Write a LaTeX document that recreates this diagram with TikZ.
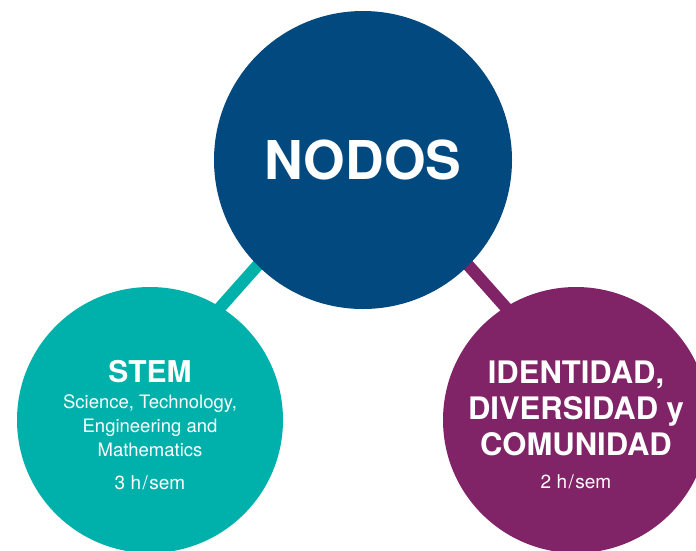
\documentclass[tikz,border=0pt]{standalone}
\usepackage{fontspec}
\setmainfont{TeX Gyre Heros}
\usetikzlibrary{backgrounds}

\definecolor{nodoblue}{RGB}{2,73,128}
\definecolor{stemteal}{RGB}{0,176,170}
\definecolor{idcpurple}{RGB}{128,35,103}

\tikzset{
  bubble/.style={circle, inner sep=0pt, text=white, align=center},
  bubbletext/.style={text=white, align=center, inner sep=0pt},
  link/.style={line width=12pt, shorten <=-8pt, shorten >=-8pt},
}
\newcommand{\hours}[1]{{\fontsize{19}{23.7}\selectfont\mdseries #1 h\kern1.5pt/\kern1.5pt sem}}

\begin{document}
\begin{tikzpicture}[x=1pt,y=-1pt]
        \useasboundingbox (0,0) rectangle (696,550);
        \node[bubble, fill=nodoblue, minimum size=298pt, font=\fontsize{53.5}{53.5}\selectfont\bfseries] (nodos) at (363,160) {NODOS};
        \node[bubble, fill=stemteal, minimum size=266pt] (stem) at (150,420) {};
        \node[bubble, fill=idcpurple, minimum size=266pt] (idc) at (576,420) {};
        \node[bubbletext, yshift=-4.7pt, font=\fontsize{18.5}{23.7}\selectfont] (stemlabel) at (stem)
          {{\fontsize{30}{30}\selectfont\bfseries STEM}\\[3pt]
           Science, Technology,\\ Engineering and\\ Mathematics\\[9.3pt] \hours{3}};
        \node[bubbletext, yshift=-5pt, font=\fontsize{31}{36}\selectfont\bfseries] (idclabel) at (idc)
          {IDENTIDAD,\\ DIVERSIDAD y\\ COMUNIDAD\\[-3pt] \hours{2}};
        \begin{scope}[on background layer]
        \draw[link, stemteal] (nodos.225) -- (stem.58);
        \draw[link, idcpurple] (nodos.-45) -- (idc.122);
        \end{scope}
\end{tikzpicture}
\end{document}
